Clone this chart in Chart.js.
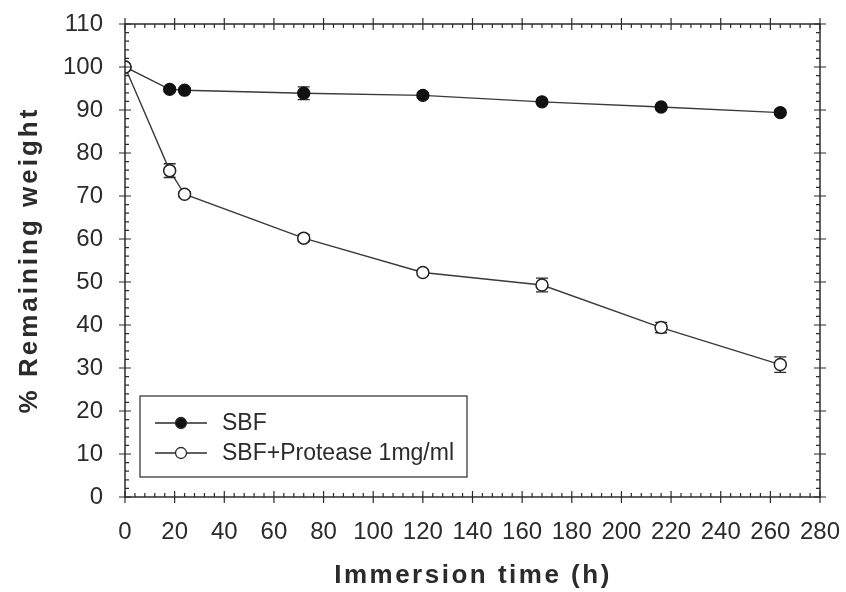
<!DOCTYPE html>
<html>
<head>
<meta charset="utf-8">
<script src="https://cdn.jsdelivr.net/npm/chart.js"></script>
<style>
  body { margin: 0; background: #fff; }
  #wrap { width: 846px; height: 592px; }
</style>
</head>
<body>
<div id="wrap"><canvas id="weightChart"></canvas></div>
<script>
// immersion time (h)
const hours = [0, 18, 24, 72, 120, 168, 216, 264];
// % remaining weight
const sbf = [100, 94.8, 94.6, 93.9, 93.4, 91.9, 90.7, 89.4];
const sbfErr = [0, 0.5, 0.5, 1.5, 0.5, 0.5, 0.5, 0.6];
const protease = [100, 75.9, 70.4, 60.2, 52.2, 49.3, 39.4, 30.8];
const proteaseErr = [0, 1.6, 0.6, 0.8, 0.7, 1.6, 1.2, 1.8];

const xTicks = [0, 20, 40, 60, 80, 100, 120, 140, 160, 180, 200, 220, 240, 260, 280];
const yTicks = [0, 10, 20, 30, 40, 50, 60, 70, 80, 90, 100, 110];

const xTitle = 'Immersion time (h)';
const yTitle = '% Remaining weight';

const ink = '#2b2b2b';
const fontFam = '"Liberation Sans", Arial, sans-serif';

const toPoints = (vals) => hours.map((h, i) => ({ x: h, y: vals[i] }));

// frame with crossing ticks on all four sides, legend and axis titles
const framePlugin = {
  id: 'frame',
  afterDraw(chart) {
    const { ctx, chartArea: a, scales: { x, y } } = chart;
    ctx.save();
    ctx.strokeStyle = ink;
    ctx.lineWidth = 1.5;
    ctx.strokeRect(a.left, a.top, a.right - a.left, a.bottom - a.top);
    ctx.lineWidth = 1.2;
    ctx.beginPath();
    for (let v = 0; v <= 280; v += 4) {
      const px = x.getPixelForValue(v);
      const major = v % 20 === 0;
      const out = major ? 6 : 0, inn = major ? 6 : 4;
      ctx.moveTo(px, a.bottom + out); ctx.lineTo(px, a.bottom - inn);
      ctx.moveTo(px, a.top - out); ctx.lineTo(px, a.top + inn);
    }
    for (let v = 0; v <= 110; v += 2) {
      const py = y.getPixelForValue(v);
      const major = v % 10 === 0;
      const out = major ? 6 : 0, inn = major ? 6 : 4;
      ctx.moveTo(a.left - out, py); ctx.lineTo(a.left + inn, py);
      ctx.moveTo(a.right + out, py); ctx.lineTo(a.right - inn, py);
    }
    ctx.stroke();

    // legend box
    const bx = 140, by = 396, bw = 327, bh = 81;
    ctx.fillStyle = '#fff';
    ctx.fillRect(bx, by, bw, bh);
    ctx.lineWidth = 1.2;
    ctx.strokeRect(bx, by, bw, bh);
    chart.data.datasets.forEach((ds, i) => {
      const ly = by + 27 + i * 30;
      ctx.beginPath();
      ctx.lineWidth = 1.3;
      ctx.moveTo(155, ly); ctx.lineTo(207, ly);
      ctx.stroke();
      ctx.beginPath();
      ctx.arc(181, ly, 5.5, 0, Math.PI * 2);
      ctx.fillStyle = ds.pointBackgroundColor;
      ctx.fill();
      ctx.stroke();
      ctx.fillStyle = ink;
      ctx.font = '23px ' + fontFam;
      ctx.textBaseline = 'middle';
      ctx.fillText(ds.label, 222, ly + 1);
    });

    // axis titles (wide spacing like the original)
    ctx.fillStyle = ink;
    ctx.font = 'bold 26px ' + fontFam;
    ctx.textAlign = 'center';
    ctx.textBaseline = 'middle';
    ctx.letterSpacing = '2.5px';
    ctx.fillText(xTitle, 473, 576);
    ctx.translate(30, 260);
    ctx.rotate(-Math.PI / 2);
    ctx.letterSpacing = '3px';
    ctx.fillText(yTitle, 0, 0);
    ctx.restore();
  }
};

// vertical error bars with caps, drawn under the markers
const errorBarPlugin = {
  id: 'errorBars',
  beforeDatasetsDraw(chart) {
    const { ctx, scales: { x, y } } = chart;
    ctx.save();
    ctx.strokeStyle = ink;
    ctx.lineWidth = 1.3;
    chart.data.datasets.forEach((ds) => {
      ds.data.forEach((p, i) => {
        const e = ds.errors[i];
        if (!e) return;
        const px = x.getPixelForValue(p.x);
        const top = y.getPixelForValue(p.y + e);
        const bot = y.getPixelForValue(p.y - e);
        ctx.beginPath();
        ctx.moveTo(px, top); ctx.lineTo(px, bot);
        ctx.moveTo(px - 6, top); ctx.lineTo(px + 6, top);
        ctx.moveTo(px - 6, bot); ctx.lineTo(px + 6, bot);
        ctx.stroke();
      });
    });
    ctx.restore();
  }
};

// keep the plot box where the layout padding puts it
const noOverhang = (s) => {
  s.paddingTop = 0; s.paddingBottom = 0; s.paddingLeft = 0; s.paddingRight = 0;
};

new Chart(document.getElementById('weightChart'), {
  type: 'line',
  data: {
    datasets: [
      {
        label: 'SBF',
        data: toPoints(sbf),
        errors: sbfErr,
        order: 1,
        borderColor: '#3a3a3a',
        borderWidth: 1.4,
        pointRadius: 6,
        pointBackgroundColor: '#111',
        pointBorderColor: '#111',
        pointBorderWidth: 1.3,
        tension: 0
      },
      {
        label: 'SBF+Protease 1mg/ml',
        data: toPoints(protease),
        errors: proteaseErr,
        order: 0,
        borderColor: '#3a3a3a',
        borderWidth: 1.4,
        pointRadius: 6,
        pointBackgroundColor: '#fff',
        pointBorderColor: '#222',
        pointBorderWidth: 1.5,
        tension: 0
      }
    ]
  },
  options: {
    responsive: true,
    maintainAspectRatio: false,
    animation: false,
    layout: { padding: { top: 24, right: 26, left: 0, bottom: 0 } },
    plugins: { legend: { display: false }, tooltip: { enabled: false } },
    scales: {
      x: {
        type: 'linear',
        min: 0,
        max: 280,
        afterBuildTicks: (s) => { s.ticks = xTicks.map(v => ({ value: v })); },
        afterFit: (s) => { s.height = 95; noOverhang(s); },
        grid: { display: false, drawTicks: false },
        border: { display: false },
        ticks: { color: ink, font: { family: fontFam, size: 24 }, padding: 21, maxRotation: 0, autoSkip: false },
        title: { display: false }
      },
      y: {
        min: 0,
        max: 110,
        afterBuildTicks: (s) => { s.ticks = yTicks.map(v => ({ value: v })); },
        afterFit: (s) => { s.width = 125; noOverhang(s); },
        grid: { display: false, drawTicks: false },
        border: { display: false },
        ticks: { color: ink, font: { family: fontFam, size: 24 }, padding: 22, autoSkip: false },
        title: { display: false }
      }
    }
  },
  plugins: [errorBarPlugin, framePlugin]
});
</script>
</body>
</html>
